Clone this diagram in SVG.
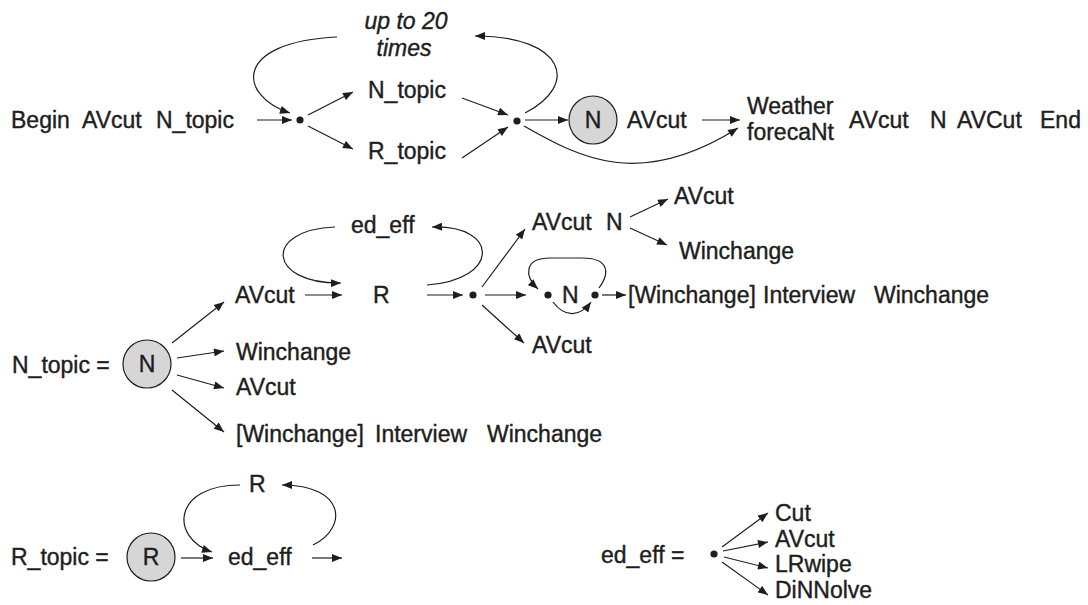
<svg xmlns="http://www.w3.org/2000/svg" width="1088" height="605" viewBox="0 0 1088 605">
  <defs>
    <marker id="arr" viewBox="0 0 10 8" refX="10" refY="4" markerWidth="11" markerHeight="8" markerUnits="userSpaceOnUse" orient="auto">
      <path d="M0,0 L10,4 L0,8 Z" fill="#1e1e1e"/>
    </marker>
    <style>
      text { font-family: "Liberation Sans", Arial, sans-serif; font-size: 23px; fill: #1e1e1e; stroke: #1e1e1e; stroke-width: 0.4; }
      .it { font-style: italic; }
      .mid { text-anchor: middle; }
      .c { fill: #d6d6d6; stroke: #1e1e1e; stroke-width: 1.2; }
      .dot { fill: #1e1e1e; }
      #connectors path, #connectors line { fill: none; stroke: #1e1e1e; stroke-width: 1.2; marker-end: url(#arr); }
    </style>
  </defs>
  <rect width="1088" height="605" fill="#ffffff"/>

  <!-- main sequence -->
  <g id="seq-start">
    <text x="11" y="128">Begin</text>
    <text x="82" y="128">AVcut</text>
    <text x="156" y="128">N_topic</text>
  </g>
  <g id="loop-label">
    <text class="it mid" x="406" y="29">up to 20</text>
    <text class="it mid" x="404" y="56">times</text>
  </g>
  <g id="fork1"><circle class="dot" cx="300" cy="120" r="3.6"/></g>
  <g id="n-topic-ref"><text x="368" y="98">N_topic</text></g>
  <g id="r-topic-ref"><text x="368" y="159">R_topic</text></g>
  <g id="join1"><circle class="dot" cx="517" cy="121" r="3.6"/></g>
  <g id="n-news">
    <circle class="c" cx="593" cy="120" r="24"/>
    <text class="mid" x="593" y="128">N</text>
  </g>
  <g id="avcut-1"><text x="627" y="128">AVcut</text></g>
  <g id="weather">
    <text x="747" y="114">Weather</text>
    <text x="747" y="140">forecaNt</text>
  </g>
  <g id="seq-end">
    <text x="849" y="128">AVcut</text>
    <text x="930" y="128">N</text>
    <text x="957" y="128">AVCut</text>
    <text x="1040" y="128">End</text>
  </g>

  <!-- N_topic expansion -->
  <g id="ed-eff-top"><text x="351" y="233">ed_eff</text></g>
  <g id="avcut-2"><text x="235" y="303">AVcut</text></g>
  <g id="r-2"><text x="373" y="303">R</text></g>
  <g id="fork2"><circle class="dot" cx="473" cy="295" r="3.6"/></g>
  <g id="avcut-n"><text x="532" y="230">AVcut</text><text x="606" y="230">N</text></g>
  <g id="avcut-3"><text x="674" y="204">AVcut</text></g>
  <g id="winchange-1"><text x="679" y="259">Winchange</text></g>
  <g id="n-repeat">
    <circle class="dot" cx="548" cy="295" r="3.6"/>
    <text x="562" y="303">N</text>
    <circle class="dot" cx="595" cy="295" r="3.6"/>
  </g>
  <g id="interview-1">
    <text x="628" y="303">[Winchange]</text>
    <text x="763" y="303">Interview</text>
    <text x="874" y="303">Winchange</text>
  </g>
  <g id="avcut-4"><text x="532" y="353">AVcut</text></g>

  <g id="n-topic-def">
    <text x="12" y="373">N_topic =</text>
    <circle class="c" cx="147" cy="364" r="24"/>
    <text class="mid" x="147" y="372">N</text>
  </g>
  <g id="winchange-2"><text x="236" y="360">Winchange</text></g>
  <g id="avcut-5"><text x="236" y="395">AVcut</text></g>
  <g id="interview-2">
    <text x="236" y="442">[Winchange]</text>
    <text x="375" y="442">Interview</text>
    <text x="487" y="442">Winchange</text>
  </g>

  <!-- R_topic expansion -->
  <g id="r-top"><text x="249" y="492">R</text></g>
  <g id="r-topic-def">
    <text x="11" y="565">R_topic =</text>
    <circle class="c" cx="151" cy="557" r="24"/>
    <text class="mid" x="151" y="565">R</text>
  </g>
  <g id="ed-eff-r"><text x="228" y="565">ed_eff</text></g>

  <!-- ed_eff alternatives -->
  <g id="ed-eff-def">
    <text x="601" y="563">ed_eff =</text>
    <circle class="dot" cx="714" cy="554" r="3.6"/>
  </g>
  <g id="cut"><text x="775" y="521">Cut</text></g>
  <g id="avcut-6"><text x="775" y="547">AVcut</text></g>
  <g id="lrwipe"><text x="775" y="572">LRwipe</text></g>
  <g id="dissolve"><text x="775" y="598">DiNNolve</text></g>

  <g id="connectors">
    <!-- top row -->
    <line x1="257" y1="120" x2="292" y2="120"/>
    <line x1="308" y1="115" x2="353" y2="92"/>
    <line x1="308" y1="126" x2="353" y2="149"/>
    <line x1="462" y1="98" x2="508" y2="115"/>
    <line x1="462" y1="158" x2="508" y2="127"/>
    <path d="M337,37 C232,42 238,96 290,113"/>
    <path d="M525,113 C580,85 565,36 475,36"/>
    <line x1="525" y1="120" x2="568" y2="120"/>
    <line x1="702" y1="120" x2="740" y2="120"/>
    <path d="M524,126 C580,158 640,190 738,128"/>

    <!-- N_topic row -->
    <path d="M335,227 C262,230 268,284 341,283"/>
    <path d="M427,285 C500,280 500,225 432,227"/>
    <line x1="305" y1="295" x2="342" y2="295"/>
    <line x1="427" y1="295" x2="463" y2="295"/>
    <line x1="482" y1="287" x2="525" y2="229"/>
    <line x1="485" y1="295" x2="526" y2="295"/>
    <line x1="482" y1="305" x2="524" y2="343"/>
    <line x1="630" y1="217" x2="668" y2="199"/>
    <line x1="630" y1="228" x2="667" y2="245"/>
    <path d="M599,288 C612,270 606,258 582,258 L550,258 C524,258 524,276 538,289"/>
    <path d="M553,302 C565,318 580,317 591,302"/>
    <line x1="602" y1="295" x2="626" y2="295"/>

    <!-- N_topic definition -->
    <line x1="172" y1="343" x2="224" y2="302"/>
    <line x1="177" y1="358" x2="224" y2="351"/>
    <line x1="177" y1="375" x2="224" y2="388"/>
    <line x1="172" y1="390" x2="224" y2="432"/>

    <!-- R_topic definition -->
    <line x1="181" y1="558" x2="213" y2="558"/>
    <line x1="312" y1="558" x2="342" y2="558"/>
    <path d="M240,485 C172,485 170,538 212,552"/>
    <path d="M313,545 C348,528 346,485 282,485"/>

    <!-- ed_eff definition -->
    <line x1="722" y1="547" x2="768" y2="513"/>
    <line x1="723" y1="551" x2="768" y2="542"/>
    <line x1="724" y1="557" x2="768" y2="568"/>
    <line x1="722" y1="562" x2="768" y2="595"/>
  </g>
</svg>
